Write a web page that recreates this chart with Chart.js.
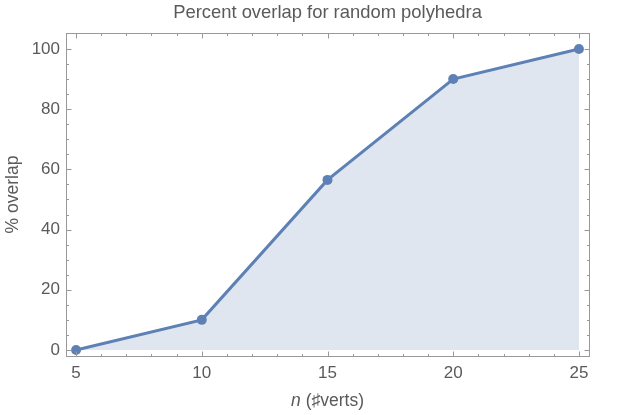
<!DOCTYPE html>
<html>
<head>
<meta charset="utf-8">
<script src="https://cdn.jsdelivr.net/npm/chart.js@4.4.1/dist/chart.umd.min.js"></script>
<style>
  html, body { margin: 0; padding: 0; background: #fff; }
  #wrap { width: 623px; height: 415px; }
</style>
</head>
<body>
<div id="wrap"><canvas id="overlapChart" width="623" height="415"></canvas></div>
<script>
// values
const vertCounts = [5, 10, 15, 20, 25];
const overlapPct = [0, 10, 56.5, 90, 100];
const xTicks = [5, 10, 15, 20, 25];
const yTicks = [0, 20, 40, 60, 80, 100];

const chartTitle = 'Percent overlap for random polyhedra';
const yTitle = '% overlap';
const xTitleVar = 'n';
const xTitleRest = ' (\u266Fverts)';

const lineColor = 'rgb(94, 129, 181)';
const fillColor = 'rgba(94, 129, 181, 0.2)';
const textColor = '#5a5a5a';
const frameColor = '#999';
const fontFamily = '"Liberation Sans", Arial, sans-serif';

// Mathematica-style frame with inward ticks on all four sides
const framePlugin = {
    id: 'frame',
    afterDraw(chart) {
        const { ctx, chartArea: a, scales } = chart;
        const xs = scales.x, ys = scales.y;
        ctx.save();
        ctx.strokeStyle = frameColor;
        ctx.lineWidth = 1;
        const L = Math.round(a.left) + 0.5, R = Math.round(a.right) + 0.5;
        const T = Math.round(a.top) + 0.5, B = Math.round(a.bottom) + 0.5;
        ctx.strokeRect(L, T, R - L, B - T);
        ctx.beginPath();
        for (let v = 5; v <= 25; v += 1) {
            const len = xTicks.includes(v) ? 5 : 2.5;
            const px = Math.round(xs.getPixelForValue(v)) + 0.5;
            ctx.moveTo(px, B); ctx.lineTo(px, B - len);
            ctx.moveTo(px, T); ctx.lineTo(px, T + len);
        }
        for (let v = 0; v <= 100; v += 5) {
            const len = yTicks.includes(v) ? 5 : 2.5;
            const py = Math.round(ys.getPixelForValue(v)) + 0.5;
            ctx.moveTo(L, py); ctx.lineTo(L + len, py);
            ctx.moveTo(R, py); ctx.lineTo(R - len, py);
        }
        ctx.stroke();

        // x axis title with italic n
        ctx.fillStyle = textColor;
        ctx.textBaseline = 'middle';
        ctx.textAlign = 'left';
        const italicFont = 'italic 17.5px ' + fontFamily;
        const plainFont = '17.5px ' + fontFamily;
        ctx.font = italicFont;
        const w1 = ctx.measureText(xTitleVar).width;
        ctx.font = plainFont;
        const w2 = ctx.measureText(xTitleRest).width;
        const cx = (a.left + a.right) / 2;
        const y = 401;
        let x0 = cx - (w1 + w2) / 2;
        ctx.font = italicFont;
        ctx.fillText(xTitleVar, x0, y);
        ctx.font = plainFont;
        ctx.fillText(xTitleRest, x0 + w1, y);
        ctx.restore();
    }
};

const ctx = document.getElementById('overlapChart').getContext('2d');
const overlapChart = new Chart(ctx, {
    type: 'line',
    data: {
        datasets: [{
            label: 'overlap',
            data: vertCounts.map((n, i) => ({ x: n, y: overlapPct[i] })),
            borderColor: lineColor,
            backgroundColor: fillColor,
            borderWidth: 3,
            pointRadius: 5,
            pointBackgroundColor: lineColor,
            pointBorderWidth: 0,
            fill: 'origin',
            tension: 0
        }]
    },
    options: {
        responsive: false,
        animation: false,
        layout: { padding: { left: 0, right: 34, top: 0, bottom: 0 } },
        plugins: {
            legend: { display: false },
            tooltip: { enabled: false },
            title: {
                display: true,
                fullSize: false,   // centre over the plot frame, not the canvas
                text: chartTitle,
                color: textColor,
                font: { family: fontFamily, size: 18.4, weight: 'normal', lineHeight: 1.2 },
                padding: { top: 2, bottom: 8.9 }
            }
        },
        scales: {
            x: {
                type: 'linear',
                min: 4.6,
                max: 25.4,
                grid: { display: false, drawTicks: false },
                border: { display: false },
                afterBuildTicks: s => { s.ticks = xTicks.map(v => ({ value: v })); },
                afterFit: s => { s.height = 59; },
                ticks: {
                    color: textColor,
                    font: { family: fontFamily, size: 17 },
                    padding: 7,
                    maxRotation: 0,
                    autoSkip: false
                }
            },
            y: {
                min: -2,
                max: 105.3,
                grid: { display: false, drawTicks: false },
                border: { display: false },
                afterBuildTicks: s => { s.ticks = yTicks.map(v => ({ value: v })); },
                afterFit: s => { s.width = 66; },
                title: {
                    display: true,
                    text: yTitle,
                    color: textColor,
                    font: { family: fontFamily, size: 17.5 },
                    padding: { top: 3, bottom: 0 }
                },
                ticks: {
                    color: textColor,
                    font: { family: fontFamily, size: 17 },
                    padding: 6,
                    autoSkip: false
                }
            }
        }
    },
    plugins: [framePlugin]
});
</script>
</body>
</html>
